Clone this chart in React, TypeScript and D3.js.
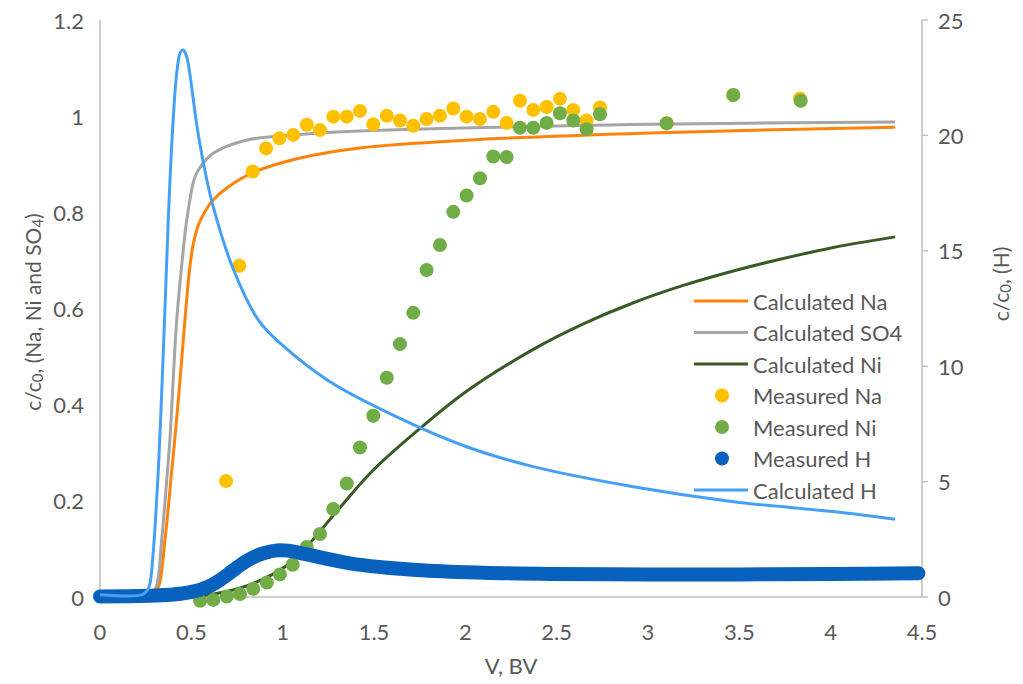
import React from 'react';
import * as d3 from 'd3';

// Breakthrough curves: c/c0 against bed volumes (BV)
const xTicks = [0, 0.5, 1, 1.5, 2, 2.5, 3, 3.5, 4, 4.5];
const leftTicks = [0, 0.2, 0.4, 0.6, 0.8, 1, 1.2];
const rightTicks = [0, 5, 10, 15, 20, 25];

// Model curves, left axis
const calculatedNa: [number, number][] = [
  [0, 0], [0.28, 0], [0.319, 0.02], [0.356, 0.12], [0.392, 0.26], [0.41, 0.33],
  [0.44, 0.46], [0.465, 0.576], [0.49, 0.68], [0.511, 0.735], [0.54, 0.775],
  [0.58, 0.805], [0.62, 0.826], [0.7, 0.852], [0.834, 0.882],
  [1.095, 0.913], [1.423, 0.934], [2.0, 0.95], [3.01, 0.965], [4.352, 0.977],
];
const calculatedSO4: [number, number][] = [
  [0, 0], [0.27, 0], [0.307, 0.02], [0.338, 0.12], [0.369, 0.26], [0.383, 0.33],
  [0.42, 0.576], [0.45, 0.7], [0.475, 0.784], [0.52, 0.874], [0.56, 0.9],
  [0.62, 0.923], [0.8, 0.95], [1.095, 0.962], [1.423, 0.969], [3.01, 0.983],
  [4.352, 0.988],
];
const calculatedNi: [number, number][] = [
  [0, 0], [0.5, 0], [0.7, 0.012], [0.85, 0.03], [1.013, 0.063], [1.132, 0.105],
  [1.3, 0.18], [1.496, 0.264], [1.734, 0.345], [2.007, 0.428], [2.372, 0.515],
  [2.646, 0.568], [2.92, 0.612], [3.193, 0.648], [3.467, 0.678], [3.741, 0.704],
  [4.015, 0.727], [4.352, 0.749],
];

// Measured points, left axis
const measuredNa: [number, number][] = [
  [0.69, 0.241], [0.763, 0.689], [0.836, 0.885], [0.909, 0.933], [0.982, 0.954],
  [1.058, 0.961], [1.132, 0.982], [1.204, 0.971], [1.277, 0.999], [1.351, 0.999],
  [1.423, 1.011], [1.496, 0.983], [1.57, 1.001], [1.642, 0.991], [1.715, 0.98],
  [1.788, 0.994], [1.861, 1.001], [1.934, 1.016], [2.007, 0.999], [2.08, 0.994],
  [2.153, 1.009], [2.226, 0.986], [2.299, 1.032], [2.372, 1.013], [2.445, 1.019],
  [2.518, 1.036], [2.591, 1.013], [2.664, 0.991], [2.737, 1.018], [3.102, 0.986],
  [3.466, 1.044], [3.832, 1.037],
];
const measuredNi: [number, number][] = [
  [0.548, -0.008], [0.62, -0.006], [0.694, 0.001], [0.766, 0.006], [0.839, 0.017],
  [0.913, 0.03], [0.985, 0.047], [1.055, 0.067], [1.132, 0.104], [1.204, 0.131],
  [1.277, 0.183], [1.351, 0.236], [1.423, 0.311], [1.496, 0.377], [1.57, 0.456],
  [1.642, 0.526], [1.715, 0.591], [1.788, 0.68], [1.861, 0.732], [1.934, 0.801],
  [2.007, 0.835], [2.08, 0.871], [2.153, 0.916], [2.226, 0.915], [2.299, 0.976],
  [2.372, 0.976], [2.445, 0.986], [2.518, 1.006], [2.591, 0.991], [2.664, 0.973],
  [2.737, 1.004], [3.102, 0.985], [3.467, 1.044], [3.836, 1.032],
];

// Right axis (H)
const measuredH: [number, number][] = [
  [0, 0.02], [0.3, 0.06], [0.45, 0.15], [0.5, 0.22], [0.55, 0.32], [0.6, 0.47],
  [0.65, 0.7], [0.7, 0.98], [0.75, 1.28], [0.8, 1.55], [0.85, 1.76], [0.9, 1.91],
  [0.97, 2.02], [1.03, 2.01], [1.1, 1.9], [1.369, 1.46], [1.734, 1.17],
  [2.098, 1.05], [2.463, 1.0], [3.0, 0.98], [3.5, 0.98], [4.0, 1.0], [4.48, 1.03],
];
const calculatedH: [number, number][] = [
  [0, 0.1], [0.23, 0.1], [0.26, 0.3], [0.274, 0.6], [0.29, 1.8], [0.305, 3.5],
  [0.32, 5.6], [0.335, 8.3], [0.35, 11.3], [0.365, 14.5], [0.38, 17.5],
  [0.4, 20.6], [0.42, 22.7], [0.44, 23.6], [0.456, 23.7], [0.475, 23.4],
  [0.493, 22.6], [0.51, 21.6], [0.529, 20.5], [0.566, 18.8], [0.62, 16.9],
  [0.73, 14.2], [0.867, 12.0], [1.0, 10.9], [1.259, 9.33], [1.642, 7.74],
  [2.007, 6.51], [2.372, 5.65], [2.92, 4.78], [3.467, 4.13], [4.015, 3.7],
  [4.352, 3.37],
];

const legendItems = [
  { label: 'Calculated Na', kind: 'line', color: '#FF820A' },
  { label: 'Calculated SO4', kind: 'line', color: '#A5A5A5' },
  { label: 'Calculated Ni', kind: 'line', color: '#3A5A24' },
  { label: 'Measured Na', kind: 'dot', color: '#FFC000' },
  { label: 'Measured Ni', kind: 'dot', color: '#70AD47' },
  { label: 'Measured H', kind: 'dot', color: '#0862BD' },
  { label: 'Calculated H', kind: 'line', color: '#45A0F5' },
];

const FONT = 'Lato, "Open Sans", sans-serif';
const TEXT = '#595959';
const AXIS = '#BFBFBF';

export default function App() {
  const W = 1023;
  const H = 684;
  const left = 100, right = 922, top = 20, bottom = 597;

  const x = d3.scaleLinear().domain([0, 4.5]).range([left, right]);
  const yL = d3.scaleLinear().domain([0, 1.2]).range([bottom, top]);
  const yR = d3.scaleLinear().domain([0, 25]).range([bottom, top]);

  const smooth = d3.curveCatmullRom.alpha(0.5);
  const lineL = d3.line<[number, number]>().x(d => x(d[0])).y(d => yL(d[1])).curve(smooth);
  const lineR = d3.line<[number, number]>().x(d => x(d[0])).y(d => yR(d[1])).curve(smooth);

  const fs = 22;
  const sub = 15;

  return (
    <svg width={W} height={H} style={{ position: 'absolute', left: 0, top: 0, background: '#fff' }}
      fontFamily={FONT}>
      <rect x={0} y={0} width={W} height={H} fill="#fff" />

      {/* axes */}
      <line x1={left} y1={top} x2={left} y2={bottom} stroke={AXIS} strokeWidth={1.5} />
      <line x1={left} y1={bottom} x2={right} y2={bottom} stroke={AXIS} strokeWidth={1.5} />
      <line x1={right} y1={top} x2={right} y2={bottom} stroke={AXIS} strokeWidth={1.5} />
      {rightTicks.map(t => (
        <line key={'rt' + t} x1={right} x2={right + 6} y1={yR(t)} y2={yR(t)} stroke={AXIS} strokeWidth={1.5} />
      ))}

      {/* tick labels */}
      {leftTicks.map(t => (
        <text key={'l' + t} x={84} y={yL(t)} textAnchor="end" dominantBaseline="central" fontSize={fs} fill={TEXT}>
          {String(t)}
        </text>
      ))}
      {rightTicks.map(t => (
        <text key={'r' + t} x={938} y={yR(t)} textAnchor="start" dominantBaseline="central" fontSize={fs} fill={TEXT}>
          {String(t)}
        </text>
      ))}
      {xTicks.map(t => (
        <text key={'x' + t} x={x(t)} y={631} textAnchor="middle" dominantBaseline="central" fontSize={fs} fill={TEXT}>
          {String(t)}
        </text>
      ))}

      {/* axis titles */}
      <text x={511} y={665} textAnchor="middle" dominantBaseline="central" fontSize={fs} fill={TEXT}>V, BV</text>
      <text transform="translate(32,312) rotate(-90)" textAnchor="middle" dominantBaseline="central" fontSize={21} fill={TEXT}>
        c/c<tspan fontSize={sub} dy={5}>0</tspan><tspan dy={-5}>, (Na, Ni and SO</tspan><tspan fontSize={sub} dy={5}>4</tspan><tspan dy={-5}>)</tspan>
      </text>
      <text transform="translate(1000,284) rotate(-90)" textAnchor="middle" dominantBaseline="central" fontSize={21} fill={TEXT}>
        c/c<tspan fontSize={sub} dy={5}>0</tspan><tspan dy={-5}>, (H)</tspan>
      </text>

      {/* model curves on the primary axis */}
      <path d={lineL(calculatedNa) || ''} fill="none" stroke="#FF820A" strokeWidth={3} />
      <path d={lineL(calculatedSO4) || ''} fill="none" stroke="#A5A5A5" strokeWidth={3} />
      <path d={lineL(calculatedNi) || ''} fill="none" stroke="#3A5A24" strokeWidth={3} />

      {/* measured points on the primary axis */}
      {measuredNa.map((d, i) => (
        <circle key={'na' + i} cx={x(d[0])} cy={yL(d[1])} r={7} fill="#FFC000" />
      ))}
      {measuredNi.map((d, i) => (
        <circle key={'ni' + i} cx={x(d[0])} cy={yL(d[1])} r={7} fill="#70AD47" />
      ))}

      {/* secondary axis: dense measured H and model H */}
      <path d={lineR(measuredH) || ''} fill="none" stroke="#0862BD" strokeWidth={14}
        strokeLinecap="round" strokeLinejoin="round" />
      <path d={lineR(calculatedH) || ''} fill="none" stroke="#45A0F5" strokeWidth={3} />

      {/* legend */}
      {legendItems.map((it, i) => {
        const cy = 301 + i * 31.5;
        return (
          <g key={it.label}>
            {it.kind === 'line' ? (
              <line x1={694} x2={748} y1={cy} y2={cy} stroke={it.color} strokeWidth={3} />
            ) : (
              <circle cx={722} cy={cy} r={7} fill={it.color} />
            )}
            <text x={753} y={cy} dominantBaseline="central" fontSize={fs} fill={TEXT}>{it.label}</text>
          </g>
        );
      })}
    </svg>
  );
}
